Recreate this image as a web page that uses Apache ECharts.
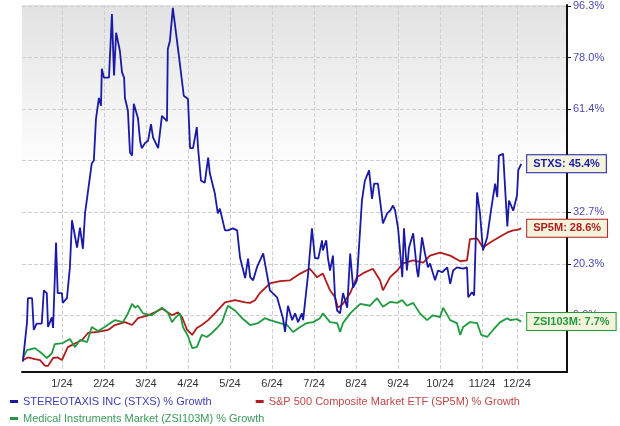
<!DOCTYPE html>
<html><head><meta charset="utf-8">
<script src="https://cdn.jsdelivr.net/npm/echarts@6/dist/echarts.min.js"></script>
<style>html,body{margin:0;padding:0;background:#fff}#c{width:620px;height:426px}</style>
</head><body><div id="c"></div>
<script>
// x = months since Dec 1 2023 (1 = Jan 2024), y = % growth
const stxs = [[0.07,-0.2],[0.17,7.6],[0.19,12.6],[0.29,12.6],[0.33,6],[0.40,7.3],[0.52,7.3],[0.57,14.3],[0.64,13.7],[0.67,6.6],[0.76,8.6],[0.79,6.4],[0.86,25.2],[0.90,13.7],[1.0,13.7],[1.02,11.6],[1.12,12.6],[1.19,19.4],[1.24,30.6],[1.36,24],[1.43,28.8],[1.50,23.7],[1.55,32.3],[1.71,45.5],[1.76,46.3],[1.81,58.3],[1.88,64.8],[1.93,62.4],[1.95,74.2],[2.0,71.3],[2.12,71.3],[2.19,93.3],[2.24,72],[2.29,86.6],[2.38,80.2],[2.43,73],[2.48,71.3],[2.5,64.8],[2.57,60.9],[2.62,48.5],[2.67,47.7],[2.71,63],[2.81,58.6],[2.86,51.9],[2.9,49.8],[2.98,51.3],[3.05,51.9],[3.12,56.8],[3.17,52.8],[3.29,49.8],[3.38,59.3],[3.5,57.7],[3.52,80.9],[3.57,83.7],[3.64,95.6],[3.79,77.9],[3.9,65.5],[4.0,64.5],[4.05,49.8],[4.12,49.8],[4.21,55.9],[4.24,49.8],[4.31,40.8],[4.4,40.3],[4.48,47.1],[4.52,42.8],[4.64,37.4],[4.71,32.3],[4.76,33.5],[4.88,28.1],[4.95,28.1],[5.07,28.6],[5.17,28.1],[5.24,21.6],[5.36,17],[5.43,21.4],[5.48,17.2],[5.55,16.5],[5.64,19.4],[5.79,22.6],[5.95,14.3],[6.12,12.8],[6.26,8.4],[6.31,5.6],[6.38,11],[6.48,8],[6.55,9.4],[6.62,7.6],[6.71,9.4],[6.74,8],[6.86,18],[6.95,28.6],[7.02,21.6],[7.1,21.4],[7.19,25.7],[7.21,23.3],[7.29,25.7],[7.33,21.6],[7.38,18.7],[7.45,22.1],[7.5,12.8],[7.55,10],[7.62,9.4],[7.69,13.7],[7.79,10.6],[7.86,22.6],[7.93,14.9],[8.02,16.5],[8.14,35.6],[8.21,40.8],[8.31,43.6],[8.38,36],[8.43,40],[8.52,40],[8.64,29.8],[8.74,32.3],[8.81,33],[8.88,34.3],[8.93,33],[9.0,28.6],[9.1,17.2],[9.14,28.6],[9.21,18.7],[9.26,24],[9.36,27.4],[9.45,18.7],[9.48,17.2],[9.57,26.4],[9.64,22.6],[9.71,19.4],[9.76,20.3],[9.88,16.5],[9.95,18.7],[10.05,18.3],[10.17,19.4],[10.24,15.7],[10.31,18.7],[10.4,19.4],[10.55,19.1],[10.64,19.4],[10.67,12.8],[10.76,13.9],[10.81,13.2],[10.88,37.7],[10.95,32.3],[11.02,23.3],[11.12,26.4],[11.21,33],[11.31,40],[11.36,36.5],[11.4,47.7],[11.5,48.2],[11.6,29.1],[11.64,35.6],[11.74,33],[11.83,36.9],[11.86,43.6],[11.93,45.4]];
const sp5m = [[0.07,0.1],[0.19,0.6],[0.36,0.3],[0.48,0.1],[0.6,-1],[0.67,-1],[0.79,0.5],[0.9,0.6],[1.0,0.1],[1.14,2.6],[1.31,3.3],[1.48,4],[1.62,5.4],[1.86,5.6],[2.1,6],[2.26,7],[2.5,7.6],[2.67,7],[2.81,8.4],[3.05,9],[3.21,9.6],[3.38,10.4],[3.62,9],[3.76,9.6],[3.86,8.6],[3.98,6],[4.1,5],[4.21,6.4],[4.33,7],[4.48,8],[4.64,9.4],[4.88,11.7],[5.12,12.2],[5.36,11.7],[5.48,11.6],[5.6,12.2],[5.71,13.7],[5.95,15.8],[6.19,16.3],[6.43,16.5],[6.67,18],[6.9,19.1],[7.07,17.2],[7.21,18],[7.38,14.3],[7.5,12.8],[7.57,10.6],[7.69,11.4],[7.86,13.7],[8.02,17.2],[8.17,18.1],[8.4,19.1],[8.57,16.5],[8.64,14.3],[8.81,17.2],[8.98,18.7],[9.12,20.3],[9.36,21],[9.6,20.5],[9.76,22.1],[10.0,22.8],[10.24,22.1],[10.48,20.8],[10.64,21],[10.71,26],[10.88,26.2],[11.02,24],[11.19,25.2],[11.36,26.2],[11.6,27.6],[11.74,28.1],[11.86,28.3],[11.93,28.6]];
const zsi = [[0.07,0.5],[0.17,2],[0.36,2.4],[0.52,1.4],[0.64,0.5],[0.76,1.4],[0.83,3.2],[1.02,3.4],[1.19,4.2],[1.31,2.6],[1.43,4],[1.6,3.6],[1.71,6.6],[1.86,5.8],[2.02,6.6],[2.19,7.6],[2.26,8],[2.45,7.6],[2.55,9],[2.67,11.4],[2.74,10.6],[2.81,11],[2.93,9.4],[3.14,9],[3.38,10.6],[3.52,9.6],[3.62,7.6],[3.69,8.4],[3.81,9.4],[3.88,6.6],[4.0,4.8],[4.1,2.4],[4.21,2.6],[4.33,5],[4.45,4.6],[4.57,5.4],[4.69,6.4],[4.81,7.6],[4.95,11],[5.12,10],[5.29,8.4],[5.48,7],[5.67,7.4],[5.83,8.4],[5.95,8],[6.19,7.4],[6.36,7],[6.5,5.6],[6.67,6.6],[6.83,7.4],[6.98,7.6],[7.14,8.4],[7.21,9.4],[7.38,7.6],[7.55,7.4],[7.62,5.6],[7.69,7.4],[7.86,9.4],[8.1,11.4],[8.33,11],[8.5,12.6],[8.64,10.8],[8.81,11.8],[8.98,11.6],[9.1,12.2],[9.21,11],[9.36,11.6],[9.52,9.4],[9.69,8],[9.83,9],[10.0,8.6],[10.07,10.6],[10.24,8],[10.4,7.4],[10.48,5],[10.55,6.6],[10.71,7.6],[10.88,7.4],[10.98,5],[11.12,4.6],[11.26,6],[11.43,7.6],[11.6,8.4],[11.67,8],[11.83,8.2],[11.93,7.7]];
const yTicks = [9.0, 20.3, 32.7, 46.3, 61.4, 78.0, 96.3];
const xTickPos = [1,2,3,4,5,6,7,8,9,10,11,11.83];
const xTickLabels = ['1/24','2/24','3/24','4/24','5/24','6/24','7/24','8/24','9/24','10/24','11/24','12/24'];
const names = ['STEREOTAXIS INC (STXS) % Growth','S&P 500 Composite Market ETF (SP5M) % Growth','Medical Instruments Market (ZSI103M) % Growth'];
const shortNames = ['STXS','SP5M','ZSI103M'];
const colors = ['#1a1aa6','#b01c1c','#1f9a3e'];
const textColors = ['#4040b0','#c04848','#3a9a5a'];

// growth-factor log scale: each y tick is one unit
const L0 = Math.log(1 + yTicks[0]/100);
const STEP = (Math.log(1 + yTicks[6]/100) - L0) / 6;
const tr = p => (Math.log(1 + p/100) - L0) / STEP;
const mk = arr => arr.map(d => [d[0], tr(d[1]), d[1]]);

const chart = echarts.init(document.getElementById('c'));
const series = [stxs, sp5m, zsi].map((arr, i) => ({
  name: names[i], type: 'line', data: mk(arr), showSymbol: false, symbol: 'none',
  lineStyle: { color: colors[i], width: 1.8 }, itemStyle: { color: colors[i] },
  z: i === 0 ? 3 : 2,
  endLabel: { show: true, distance: 6,
    formatter: p => shortNames[i] + ': ' + p.value[2].toFixed(1) + '%',
    color: colors[i], fontSize: 11, fontWeight: 'bold', fontFamily: 'Arial, Liberation Sans',
    backgroundColor: '#f4f4dc', borderColor: colors[i], borderWidth: 1, padding: [3, 6] }
}));
const lt = { fontSize: 11, fontFamily: 'Arial, Liberation Sans' };
chart.setOption({
  animation: false,
  grid: { left: 22, right: 53, top: 5, bottom: 54, show: true, borderWidth: 0,
    backgroundColor: new echarts.graphic.LinearGradient(0, 0, 0, 1, [
      { offset: 0, color: '#e2e2e2' }, { offset: 0.45, color: '#ffffff' }, { offset: 1, color: '#ffffff' }]) },
  xAxis: { type: 'value', min: 0.05, max: 13.02,
    axisLine: { show: true, onZero: false, lineStyle: { color: '#111', width: 2 } },
    axisTick: { show: false, customValues: xTickPos },
    axisLabel: { customValues: xTickPos, formatter: v => xTickLabels[xTickPos.indexOf(v)] || '',
      color: '#333', fontSize: 11, fontFamily: 'Arial, Liberation Sans', margin: 6 },
    splitLine: { show: true, lineStyle: { color: '#cfcfcf', type: 'dashed' } } },
  yAxis: { type: 'value', position: 'right', min: -1.1, max: 6.02,
    axisLine: { show: true, onZero: false, lineStyle: { color: '#111', width: 2 } },
    axisTick: { show: true, length: 4, inside: false, customValues: [0,1,2,3,4,5,6], lineStyle: { color: '#111' } },
    axisLabel: { customValues: [0,1,2,3,4,5,6], formatter: v => yTicks[Math.round(v)].toFixed(1) + '%',
      color: '#4a4ab0', fontSize: 11, fontFamily: 'Arial, Liberation Sans', margin: 6 },
    splitLine: { show: true, lineStyle: { color: '#cfcfcf', type: 'dashed' } } },
  legend: [
    { left: 10, top: 396, itemGap: 44, itemWidth: 8, itemHeight: 3, icon: 'rect', padding: 0,
      data: [0,1].map(i => ({ name: names[i], textStyle: { color: textColors[i] } })), textStyle: lt },
    { left: 10, top: 413, itemWidth: 8, itemHeight: 3, icon: 'rect', padding: 0,
      data: [{ name: names[2], textStyle: { color: textColors[2] } }], textStyle: lt }
  ],
  series
});
</script></body></html>
